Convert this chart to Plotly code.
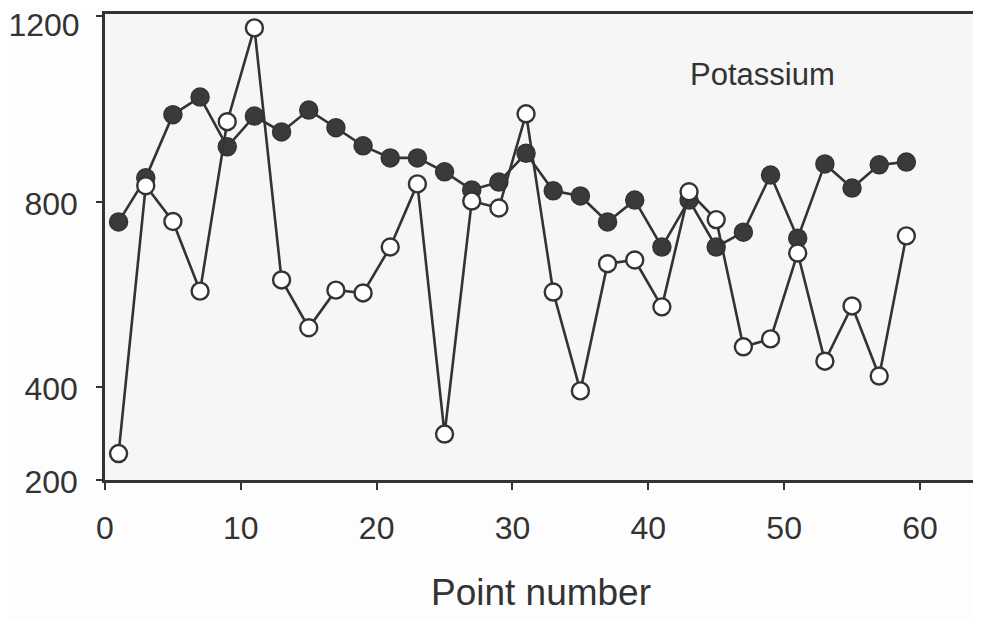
import plotly.graph_objects as go

point_number = [1, 3, 5, 7, 9, 11, 13, 15, 17, 19, 21, 23, 25, 27, 29,
                31, 33, 35, 37, 39, 41, 43, 45, 47, 49, 51, 53, 55, 57, 59]

filled_values = [756, 851, 987, 1025, 918, 984, 950, 997, 959, 920, 894, 894, 864, 825, 842,
                 904, 823, 812, 756, 803, 702, 803, 702, 734, 857, 721, 881, 829, 879, 885]

open_values = [257, 834, 757, 607, 972, 1174, 631, 528, 609, 603, 702, 838, 299, 801, 786,
               989, 605, 392, 666, 674, 573, 821, 761, 487, 504, 689, 456, 575, 424, 726]

x_ticks = [0, 10, 20, 30, 40, 50, 60]
y_ticks = [200, 400, 800]
y_top_tick = [1200]

ink = "#333333"
font_family = "Liberation Sans, Arial, sans-serif"

fig = go.Figure()
fig.add_trace(go.Scatter(
    x=point_number, y=filled_values, mode="lines+markers",
    line=dict(color=ink, width=2.6),
    marker=dict(size=18, color="#3a3a3a", line=dict(color=ink, width=1.5)),
    showlegend=False,
))
fig.add_trace(go.Scatter(
    x=point_number, y=open_values, mode="lines+markers",
    line=dict(color=ink, width=2.6),
    marker=dict(size=17, color="white", line=dict(color=ink, width=2.4)),
    showlegend=False,
))
fig.add_trace(go.Scatter(x=[None], y=[None], yaxis="y2", showlegend=False, hoverinfo="skip"))

fig.add_annotation(x=48.4, y=1073, text="Potassium", showarrow=False,
                   font=dict(family=font_family, size=31, color=ink))

# The page body adds an 8px offset, so the figure is sized to fit the window.
fig.update_layout(
    width=973, height=611,
    margin=dict(l=97, r=4, t=6, b=139, autoexpand=False),
    paper_bgcolor="#fdfdfd",
    plot_bgcolor="#f6f6f6",
    font=dict(family=font_family, color=ink),
    xaxis=dict(
        range=[0, 64.2], tickvals=x_ticks, ticktext=[str(v) for v in x_ticks],
        showgrid=False, zeroline=False, automargin=False,
        showline=True, linecolor=ink, linewidth=2.5, mirror=True,
        ticks="outside", ticklen=7, tickwidth=2, tickcolor=ink,
        tickfont=dict(size=32, color=ink), ticklabelstandoff=11,
        title=dict(text="Point number", font=dict(size=37, color=ink), standoff=34),
    ),
    yaxis=dict(
        range=[200, 1204], tickvals=y_ticks + y_top_tick,
        ticktext=[str(v) for v in y_ticks] + [""],
        showgrid=False, zeroline=False, automargin=False,
        showline=True, linecolor=ink, linewidth=2.5,
        ticks="outside", ticklen=6, tickwidth=2, tickcolor=ink,
        tickfont=dict(size=32, color=ink), ticklabelstandoff=12,
        ticklabelshift=2, ticklabeloverflow="allow",
    ),
    yaxis2=dict(
        overlaying="y", side="left", range=[200, 1204],
        tickvals=y_top_tick, ticktext=[str(v) for v in y_top_tick],
        showgrid=False, zeroline=False, showline=False, automargin=False,
        ticks="outside", ticklen=6, tickwidth=0, tickcolor="rgba(0,0,0,0)",
        ticklabeloverflow="allow", ticklabelshift=9,
        tickfont=dict(size=32, color=ink), ticklabelstandoff=12,
    ),
)

fig.write_html("out.html")
